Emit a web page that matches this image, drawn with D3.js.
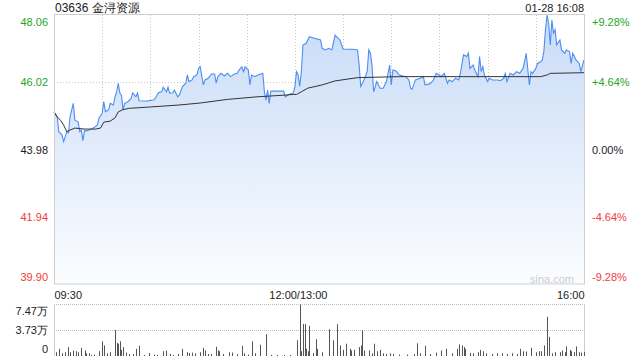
<!DOCTYPE html>
<html><head><meta charset="utf-8">
<script src="https://cdn.jsdelivr.net/npm/d3@7"></script>
<style>
html,body{margin:0;padding:0;background:#fff;}
svg{display:block;font-family:"Liberation Sans",Arial,sans-serif;}
</style></head>
<body><svg id="c" width="640" height="360"></svg>
<script>
const title = "03636 金浔资源";
const stamp = "01-28 16:08";
const prevClose = 43.98;
const priceTicks = [39.90, 41.94, 43.98, 46.02, 48.06];
const pctTicks = ["-9.28%", "-4.64%", "0.00%", "+4.64%", "+9.28%"];
const timeTicks = [0, 150, 330];
const timeLabels = ["09:30", "12:00/13:00", "16:00"];
const volTicks = [0, 37300, 74700];
const volLabels = ["0", "3.73万", "7.47万"];

const minutes = [0,2,3,5,6,8,9,10,12,13,15,16,17,18,19,20,22,24,27,28,30,31,32,34,35,37,38,39,40,41,42,43,44,46,48,49,51,52,53,58,62,63,65,67,68,70,71,72,74,75,77,78,80,82,83,84,86,87,89,90,91,93,94,96,98,100,101,102,104,106,108,110,112,114,116,117,118,119,121,122,123,125,127,130,131,132,133,134,135,138,141,143,144,146,149,150,151,152,153,154,155,157,159,161,166,167,169,171,173,175,177,178,180,183,186,189,190,191,193,195,196,197,198,199,201,203,205,207,209,210,211,213,215,219,221,222,223,225,228,230,231,234,236,238,240,241,243,245,246,248,250,252,253,255,257,258,259,261,262,264,265,266,267,268,270,271,273,276,278,280,281,282,284,286,288,290,292,293,294,296,297,298,300,301,303,304,305,306,307,308,309,310,311,312,313,315,316,318,319,321,322,323,325,327,328,330];
const prices = [45.12,44.97,44.52,44.42,44.22,44.52,44.48,44.97,45.38,44.87,44.82,44.52,44.57,44.25,44.57,44.54,44.57,44.62,44.72,44.93,45.08,45.43,45.13,45.18,45.38,45.33,45.58,45.73,45.99,45.69,45.63,45.18,45.38,45.43,45.53,45.70,45.58,45.69,45.46,45.45,45.48,45.53,45.70,45.73,45.87,45.73,45.87,45.69,45.70,45.78,45.58,45.63,45.89,45.99,46.24,46.04,46.09,46.19,46.24,46.44,46.49,45.94,46.09,46.14,46.27,46.27,45.99,46.19,46.29,46.21,46.29,46.19,46.26,46.29,46.44,46.49,46.34,46.49,46.39,45.94,46.24,46.19,46.24,46.29,45.73,45.48,45.78,45.38,45.75,45.75,45.75,45.75,45.58,45.65,45.69,45.89,46.34,46.24,45.89,46.34,47.15,47.20,47.40,47.37,47.30,47.05,47.00,47.05,47.00,47.45,47.35,47.30,47.03,47.02,47.02,47.00,46.54,45.89,46.09,46.34,47.00,46.90,46.54,45.73,46.04,45.84,45.84,46.04,46.54,45.94,46.39,46.36,46.24,46.19,46.09,45.84,45.81,46.09,46.14,46.19,45.94,45.97,46.07,46.29,46.24,46.19,46.29,45.99,46.09,46.04,46.14,46.09,46.29,46.85,46.80,46.90,46.44,46.54,46.39,46.19,46.80,46.34,46.49,46.24,46.04,46.14,46.09,46.09,46.07,46.14,46.29,46.04,46.29,46.24,46.34,46.29,46.44,46.64,46.90,45.94,46.34,46.29,46.44,46.59,46.64,46.70,46.95,47.61,48.06,47.81,47.15,47.91,47.51,47.61,47.15,47.30,47.00,46.90,47.00,46.95,46.59,46.90,46.70,46.59,46.34,46.70];

const avgMinutes = [0,2,4,6,8,10,13,19,26,29,31,35,38,40,43,47,60,78,91,108,127,144,149,151,154,158,167,175,189,215,303,307,309,330];
const avgPrices = [45.12,44.97,44.87,44.72,44.52,44.57,44.63,44.60,44.60,44.63,44.81,44.84,44.94,45.12,45.19,45.23,45.27,45.33,45.39,45.50,45.58,45.63,45.65,45.65,45.73,45.84,45.94,46.06,46.16,46.19,46.19,46.24,46.29,46.31];

const volMinutes = [1,3,5,7,9,10,12,14,15,17,19,20,22,23,25,28,30,31,33,35,38,39,40,41,42,43,45,47,49,51,53,56,59,62,64,68,70,72,74,77,80,83,84,86,88,91,93,94,96,98,101,102,103,105,109,111,114,117,118,121,123,125,128,132,135,139,143,147,151,153,154,155,156,157,158,159,161,163,164,167,171,174,176,178,180,182,184,185,187,190,191,192,193,196,198,199,201,203,205,207,209,211,215,220,224,226,228,231,234,238,241,244,248,251,252,254,255,256,259,261,264,265,267,269,273,276,279,282,285,288,290,292,294,297,300,302,303,305,307,308,310,312,315,316,318,319,321,322,324,325,327,328,330];
const volumes = [5400,10300,3900,5400,12800,5400,7900,6900,5400,11800,7900,3900,3900,1500,2000,6900,21100,15200,3900,5400,37300,18700,17700,21100,8800,12800,4900,2900,2900,10300,14700,1500,4400,2000,1500,6900,7900,2900,1500,2900,10300,5400,4400,4900,3900,5400,11800,7900,2900,2900,13300,7900,6900,2900,5400,4900,2900,14700,3900,2000,21100,3900,16200,31400,1500,1500,1500,1500,22600,74100,6900,46100,46100,10300,6900,43200,4400,24000,10300,5400,38300,22600,45600,15200,8800,17700,10300,7900,8800,12800,15200,36800,7900,7900,3900,17700,6900,8800,3900,2900,3900,2900,2000,2000,2900,18200,3900,14700,2900,4900,7900,10300,3900,10300,16700,15200,12800,10300,4400,3900,5400,8800,6900,3900,2900,3900,3900,2900,3900,2900,10300,6900,6400,11800,5400,6900,6900,15200,56400,27500,3900,5400,5400,7900,5400,13700,8800,6900,5400,13700,5400,4900,5900];

const svg = d3.select("#c");
const L = 54, R = 584, T = 15, B = 284, VT = 304, VB = 356;
const x = d3.scaleLinear().domain([0, 330]).range([L, R]);
const y = d3.scaleLinear().domain([priceTicks[0], priceTicks[4]]).range([B, T]);
const yv = d3.scaleLinear().domain([0, volTicks[2]]).range([VB, VT]);

const green = "#1fa51f", red = "#f03c3c", grid = "#c8c8c8";

// gradient
const defs = svg.append("defs");
const g = defs.append("linearGradient").attr("id", "fillg")
  .attr("gradientUnits", "userSpaceOnUse").attr("x1", 0).attr("x2", 0).attr("y1", T).attr("y2", B);
g.append("stop").attr("offset", "0%").attr("stop-color", "#c8dbf7");
g.append("stop").attr("offset", "100%").attr("stop-color", "#fbfdff");

// vertical grid
const vgrid = d3.range(1, 11).map(k => k * 30);
svg.append("g").selectAll("line").data(vgrid).join("line")
  .attr("x1", d => Math.round(x(d)) + 0.5).attr("x2", d => Math.round(x(d)) + 0.5)
  .attr("y1", T).attr("y2", B)
  .attr("stroke", grid).attr("stroke-dasharray", "1,2");
// horizontal grid
svg.append("g").selectAll("line").data(priceTicks.slice(1, 4)).join("line")
  .attr("x1", L).attr("x2", R)
  .attr("y1", d => Math.round(y(d)) + 0.5).attr("y2", d => Math.round(y(d)) + 0.5)
  .attr("stroke", d => d === prevClose ? "#aaa" : grid).attr("stroke-dasharray", d => d === prevClose ? "2,2" : "1,2");

// area and line
const pts = minutes.map((m, i) => [m, prices[i]]);
svg.append("path").datum(pts)
  .attr("d", d3.area().x(d => x(d[0])).y0(B).y1(d => y(d[1])))
  .attr("fill", "url(#fillg)");
svg.append("path").datum(pts)
  .attr("d", d3.line().x(d => x(d[0])).y(d => y(d[1])))
  .attr("fill", "none").attr("stroke", "#4d8ef0").attr("stroke-width", 1.1);
const apts = avgMinutes.map((m, i) => [m, avgPrices[i]]);
svg.append("path").datum(apts)
  .attr("d", d3.line().x(d => x(d[0])).y(d => y(d[1])))
  .attr("fill", "none").attr("stroke", "#333").attr("stroke-width", 1);

// borders
svg.append("rect").attr("x", L + 0.5).attr("y", T - 0.5).attr("width", R - L).attr("height", B - T + 0.5)
  .attr("fill", "none").attr("stroke", "#cfcfcf");

// watermark
svg.append("text").attr("x", 574).attr("y", 283).attr("text-anchor", "end")
  .attr("font-size", 11).attr("fill", "#cccccc").text("sina.com");

// left price axis
const leftAx = svg.append("g").attr("transform", `translate(${L - 3},0)`)
  .call(d3.axisLeft(y).tickValues(priceTicks).tickFormat(d3.format(".2f")).tickSize(0));
leftAx.select(".domain").remove();
leftAx.selectAll("text").attr("font-size", 11).attr("font-family", "Liberation Sans, Arial, sans-serif")
  .attr("fill", d => d > prevClose ? green : d < prevClose ? red : "#222")
  .attr("dy", (d, i) => i === 0 ? "-0.3em" : i === 4 ? "0.95em" : "0.32em");

// right pct axis
const rightAx = svg.append("g").attr("transform", `translate(${R + 5},0)`)
  .call(d3.axisRight(y).tickValues(priceTicks).tickFormat((d, i) => pctTicks[i]).tickSize(0));
rightAx.select(".domain").remove();
rightAx.selectAll("text").attr("font-size", 11).attr("font-family", "Liberation Sans, Arial, sans-serif")
  .attr("fill", d => d > prevClose ? green : d < prevClose ? red : "#222")
  .attr("dy", (d, i) => i === 0 ? "-0.3em" : i === 4 ? "0.95em" : "0.32em");

// time axis
const tAx = svg.append("g").attr("transform", `translate(0,${B + 2})`)
  .call(d3.axisBottom(x).tickValues(timeTicks).tickFormat((d, i) => timeLabels[i]).tickSize(0));
tAx.select(".domain").remove();
tAx.selectAll("text").attr("font-size", 11).attr("font-family", "Liberation Sans, Arial, sans-serif").attr("fill", "#222")
  .attr("text-anchor", (d, i) => i === 0 ? "start" : i === 2 ? "end" : "middle")
  .attr("dx", (d, i) => i === 1 ? 3 : 0).attr("dy", "0.9em");

// volume panel
svg.append("g").selectAll("line").data(volTicks.slice(1)).join("line")
  .attr("x1", L).attr("x2", R)
  .attr("y1", d => Math.round(yv(d)) + 0.5).attr("y2", d => Math.round(yv(d)) + 0.5)
  .attr("stroke", "#bbb").attr("stroke-dasharray", "1,1");
svg.append("line").attr("x1", L + 0.5).attr("x2", L + 0.5).attr("y1", VT).attr("y2", VB).attr("stroke", "#cfcfcf");
svg.append("line").attr("x1", R + 0.5).attr("x2", R + 0.5).attr("y1", VT).attr("y2", VB).attr("stroke", "#cfcfcf");
svg.append("g").selectAll("rect").data(volMinutes).join("rect")
  .attr("x", d => Math.round(x(d)))
  .attr("width", 1)
  .attr("y", (d, i) => yv(volumes[i]))
  .attr("height", (d, i) => VB - yv(volumes[i]))
  .attr("fill", "#555");
const vAx = svg.append("g").attr("transform", `translate(${L - 3},0)`)
  .call(d3.axisLeft(yv).tickValues(volTicks).tickFormat((d, i) => volLabels[i]).tickSize(0));
vAx.select(".domain").remove();
vAx.selectAll("text").attr("font-size", 11).attr("font-family", "Liberation Sans, Arial, sans-serif").attr("fill", "#222")
  .attr("dy", (d, i) => i === 2 ? "0.95em" : i === 0 ? "-0.3em" : "0.32em");

// title & stamp
svg.append("text").attr("x", L + 1).attr("y", 12).attr("font-size", 12).attr("fill", "#222").text(title);
svg.append("text").attr("x", R).attr("y", 12).attr("text-anchor", "end").attr("font-size", 11).attr("fill", "#222").text(stamp);
</script></body></html>
